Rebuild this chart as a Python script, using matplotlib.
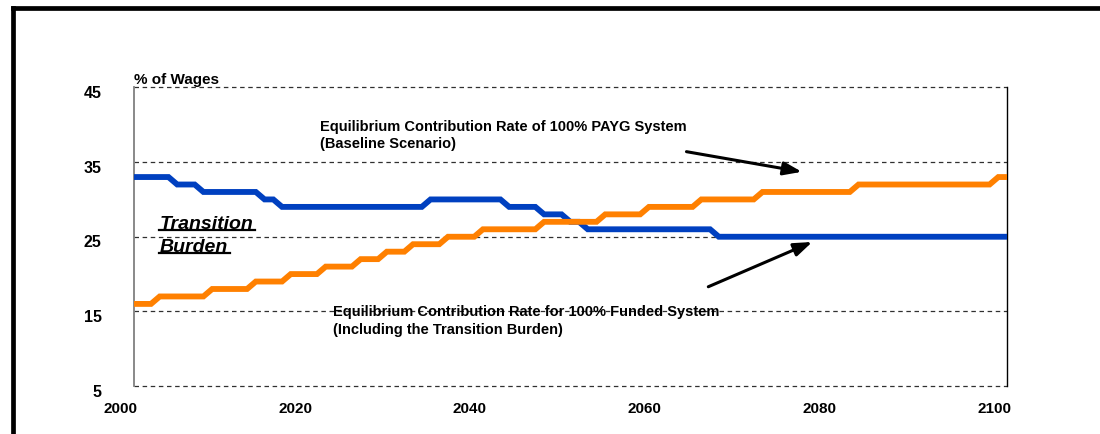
import matplotlib
matplotlib.use("Agg")
import matplotlib.pyplot as plt
import matplotlib.transforms as mtransforms
from matplotlib.lines import Line2D
import numpy as np

years = np.arange(2000, 2101)

# blue: funded system incl. transition burden
funded_rate = [33, 33, 33, 33, 33, 32, 32, 32, 31, 31,
               31, 31, 31, 31, 31, 30, 30, 29, 29, 29,
               29, 29, 29, 29, 29, 29, 29, 29, 29, 29,
               29, 29, 29, 29, 30, 30, 30, 30, 30, 30,
               30, 30, 30, 29, 29, 29, 29, 28, 28, 28,
               27, 27, 26, 26, 26, 26, 26, 26, 26, 26,
               26, 26, 26, 26, 26, 26, 26, 25, 25, 25,
               25, 25, 25, 25, 25, 25, 25, 25, 25, 25,
               25, 25, 25, 25, 25, 25, 25, 25, 25, 25,
               25, 25, 25, 25, 25, 25, 25, 25, 25, 25,
               25]

# orange: PAYG baseline
payg_rate = [16, 16, 16, 17, 17, 17, 17, 17, 17, 18,
             18, 18, 18, 18, 19, 19, 19, 19, 20, 20,
             20, 20, 21, 21, 21, 21, 22, 22, 22, 23,
             23, 23, 24, 24, 24, 24, 25, 25, 25, 25,
             26, 26, 26, 26, 26, 26, 26, 27, 27, 27,
             27, 27, 27, 27, 28, 28, 28, 28, 28, 29,
             29, 29, 29, 29, 29, 30, 30, 30, 30, 30,
             30, 30, 31, 31, 31, 31, 31, 31, 31, 31,
             31, 31, 31, 32, 32, 32, 32, 32, 32, 32,
             32, 32, 32, 32, 32, 32, 32, 32, 32, 33,
             33]

xticks = [2000, 2020, 2040, 2060, 2080, 2100]
yticks = [5, 15, 25, 35, 45]

plt.rcParams['font.family'] = ['Liberation Sans', 'DejaVu Sans']
plt.rcParams['font.weight'] = 'bold'

fig = plt.figure(figsize=(11, 4.35), dpi=100)
ax = fig.add_axes([0.1214, 0.1103, 0.7941, 0.6863])

ax.plot(years, funded_rate, color='#0040C0', lw=4.2, solid_joinstyle='miter', zorder=3)
ax.plot(years, payg_rate, color='#FF8000', lw=4.2, solid_joinstyle='miter', zorder=3)

ax.set_xlim(2000, 2100)
ax.set_ylim(5, 45)
ax.set_xticks(xticks)
ax.set_yticks(yticks)
ax.tick_params(length=0)
ax.tick_params(axis='x', pad=11, labelsize=11)
ax.tick_params(axis='y', pad=23, labelsize=11.5)
xshift = mtransforms.ScaledTranslation(-0.13, 0, fig.dpi_scale_trans)
for lab in ax.get_xticklabels():
    lab.set_transform(lab.get_transform() + xshift)
yshift = mtransforms.ScaledTranslation(0, -0.035, fig.dpi_scale_trans)
for lab in ax.get_yticklabels():
    lab.set_transform(lab.get_transform() + yshift)

ax.yaxis.grid(True, color='#303030', lw=0.9, linestyle=(0, (3.6, 2.9)), zorder=1)
for gl in ax.get_ygridlines():
    gl.set_clip_on(False)
ax.set_axisbelow(True)
ax.spines['top'].set_visible(False)
ax.spines['bottom'].set_visible(False)
ax.spines['left'].set_color('#808080')
ax.spines['left'].set_linewidth(1.3)
ax.spines['right'].set_color('black')
ax.spines['right'].set_linewidth(1.0)

ax.text(0, 1.015, '% of Wages', transform=ax.transAxes, fontsize=11,
        fontweight='bold', va='baseline', ha='left')

t1 = ax.text(2003, 26.2, 'Transition', fontsize=14, fontweight='bold',
             fontstyle='italic', va='baseline', ha='left')
t2 = ax.text(2003, 23.1, 'Burden', fontsize=14, fontweight='bold',
             fontstyle='italic', va='baseline', ha='left')

ax.text(2021.35, 39.9, 'Equilibrium Contribution Rate of 100% PAYG System',
        fontsize=10.5, fontweight='bold', va='center', ha='left')
ax.text(2021.35, 37.5, '(Baseline Scenario)',
        fontsize=10.5, fontweight='bold', va='center', ha='left')
ax.text(2022.8, 15.1, 'Equilibrium Contribution Rate for 100% Funded System',
        fontsize=10.5, fontweight='bold', va='center', ha='left')
ax.text(2022.8, 12.65, '(Including the Transition Burden)',
        fontsize=10.5, fontweight='bold', va='center', ha='left')

arrow_kw = dict(arrowstyle='-|>,head_length=1.1,head_width=0.4', color='black',
                lw=2.2, shrinkA=0, shrinkB=0)
ax.annotate('', xy=(2076.5, 33.7), xytext=(2063.3, 36.4), arrowprops=arrow_kw)
ax.annotate('', xy=(2077.7, 24.3), xytext=(2065.8, 18.3), arrowprops=arrow_kw)

# underline the "Transition Burden" label
fig.canvas.draw()
r = fig.canvas.get_renderer()
for t in (t1, t2):
    bb = t.get_window_extent(renderer=r)
    base = ax.transData.transform(t.get_position())[1]
    inv = fig.transFigure.inverted()
    (x0, y0), (x1, _) = inv.transform([(bb.x0 - 1, base - 2.5), (bb.x1 + 2, base)])
    fig.add_artist(Line2D([x0, x1], [y0, y0], color='black', lw=1.6))

# outer frame (top and left edges)
fig.add_artist(Line2D([0.0114, 1.0], [0.979, 0.979], color='black', lw=3.4))
fig.add_artist(Line2D([0.0114, 0.0114], [0.0, 0.979], color='black', lw=3.4))

fig.savefig('out.png', dpi=100)
